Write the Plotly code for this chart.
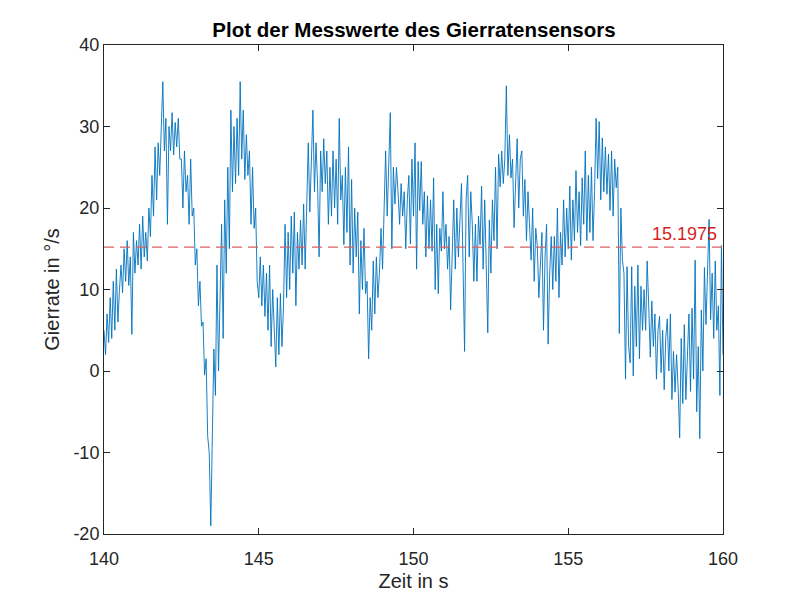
import numpy as np
import plotly.graph_objects as go

# Gierrate samples (°/s), 0.05 s spacing, 140 s .. 160 s
gierrate = [
    5, 2, 7, 3.5, 9, 4, 11, 5, 12.5, 6,
    10, 13, 9.6, 15, 11, 16, 10.5, 14, 4.5, 17,
    12, 16, 13, 18, 12.5, 19, 14, 17, 13.5, 20,
    16.5, 24, 19, 27.5, 21, 28, 24, 30, 35.5, 27,
    31, 18, 30, 27, 31.7, 26.5, 30.5, 27.5, 31, 26,
    26, 20, 27, 22, 24, 18, 26, 19, 20, 13,
    15, 8, 11, 5.5, 6, -0.5, 1.5, -8, -10, -19,
    -9, 2.7, -3, 13, 0, 10, 18, 4, 21, 12,
    25, 15, 32, 22, 30, 23, 31, 24, 35.5, 26,
    32, 23.5, 29, 24, 27, 18, 25, 17.5, 20, 11,
    9, 14, 8, 13, 6.7, 12, 5, 13, 3, 10,
    6, 0.5, 9, 2, 9.5, 3, 8, 18, 9, 17,
    10, 19, 12, 19.5, 8, 17, 12.5, 18.5, 13, 20.5,
    12.5, 20, 28, 19.5, 26, 32, 22, 28, 23, 14,
    27, 22, 28.5, 23, 27, 18, 25, 19, 27, 20,
    26, 18, 31, 21, 24, 15.5, 25, 17, 27.5, 13,
    23.5, 12, 20, 14, 19.5, 7, 16, 10, 17.5, 9.5,
    11, 1.5, 9, 5, 13.5, 7, 14, 9, 12, 17.5,
    12.5, 20, 27, 19, 27, 31.7, 15, 25, 20.5, 25,
    22, 18, 23, 19, 22, 15, 21, 24, 15.6, 26,
    19, 28, 12.5, 25.7, 19.7, 25.7, 18, 22, 14, 21.5,
    15, 21, 14.7, 23.7, 10, 18, 9.5, 17.5, 14.7, 22,
    15, 18, 12.5, 16.5, 7.5, 14, 21, 12.5, 20, 14,
    19, 23, 13, 2.4, 21, 24, 14, 22, 18, 11,
    18, 11, 19, 15.5, 22.7, 12.5, 21, 14, 4.7, 18.5,
    12, 21, 16, 25, 15, 26.6, 22.6, 27, 23, 26,
    35, 24, 29, 23.7, 26, 17.6, 24, 28.5, 20, 26,
    27, 19, 23.5, 16, 22, 18, 13.6, 20, 11, 17.5,
    15.4, 9, 13, 17, 5, 14, 18, 3.3, 12, 16.5,
    10, 16.5, 11, 20, 9, 17, 13, 21, 14, 20,
    15, 22.7, 13.6, 21, 16, 24.6, 17, 22, 15.4, 23.7,
    18, 27, 16, 24, 17, 25, 16, 22, 31, 23.6,
    30.6, 21, 28.6, 22, 27.5, 21.7, 26.6, 19.7, 27, 19,
    26, 22.5, 25, 4.6, 20, 13.6, 12, -1, 12.8, 3,
    1, 12.8, -0.6, 10.4, 3, 13, 1.5, 10.4, 5, 10,
    5, 13.5, 8, 1.7, 8.6, 3, 7, -1, 5, 6.7,
    -0.2, 5, -2.3, 4, 6.4, 0, 7, -3.5, 2.4, -2.6,
    2, -2, -8.2, 4, -4, 5.7, -3.5, 3, 7, -2.5,
    7.7, -1, 13.6, -5, 3, -8.3, 7.5, 0, 12.7, 5.7,
    12, 18.6, 6.3, 12, 4, 13.5, 5, 8, -3, 15.4,
    2,
]
t_start, t_end = 140, 160
zeit = np.linspace(t_start, t_end, len(gierrate))

mittelwert = 15.1975
mittelwert_label = "15.1975"

x_ticks = [140, 145, 150, 155, 160]
y_ticks = [-20, -10, 0, 10, 20, 30, 40]

FONT = "Liberation Sans, Arial, sans-serif"
AXCOL = "#262626"

fig = go.Figure()
fig.add_hline(y=mittelwert, layer="above",
              line=dict(color="rgb(214,96,96)", width=1.2, dash="10px,6px"))
fig.add_trace(go.Scatter(
    x=zeit, y=gierrate, mode="lines",
    line=dict(color="#0072BD", width=0.9),
    showlegend=False, hoverinfo="x+y",
))
fig.add_annotation(
    x=1, xref="paper", y=mittelwert, yref="y",
    text=mittelwert_label, showarrow=False,
    xanchor="right", yanchor="bottom", xshift=-4, yshift=1,
    font=dict(family=FONT, size=18, color="#D41F1F"),
)

axis_common = dict(
    showgrid=False, zeroline=False,
    showline=True, linecolor=AXCOL, linewidth=1, mirror="ticks",
    ticks="inside", ticklen=6, tickcolor=AXCOL, tickwidth=1,
    tickfont=dict(family=FONT, size=18, color=AXCOL),
)

fig.update_layout(
    width=800, height=600,
    margin=dict(l=104, r=77, t=45, b=66),
    paper_bgcolor="white", plot_bgcolor="white",
    title=dict(
        text="<b>Plot der Messwerte des Gierratensensors</b>",
        x=0.5175, xanchor="center", y=0.95, yanchor="middle",
        font=dict(family=FONT, size=20.5, color="black"),
    ),
    xaxis=dict(
        range=[t_start, t_end], tickvals=x_ticks, ticktext=[str(v) for v in x_ticks],
        ticklabelstandoff=8,
        title=dict(text="Zeit in s", font=dict(family=FONT, size=20, color=AXCOL), standoff=6),
        **axis_common,
    ),
    yaxis=dict(
        range=[-20, 40], tickvals=y_ticks, ticktext=[str(v) for v in y_ticks],
        title=dict(text="Gierrate in °/s", font=dict(family=FONT, size=20, color=AXCOL), standoff=8),
        **axis_common,
    ),
)

fig.write_html("out.html")
